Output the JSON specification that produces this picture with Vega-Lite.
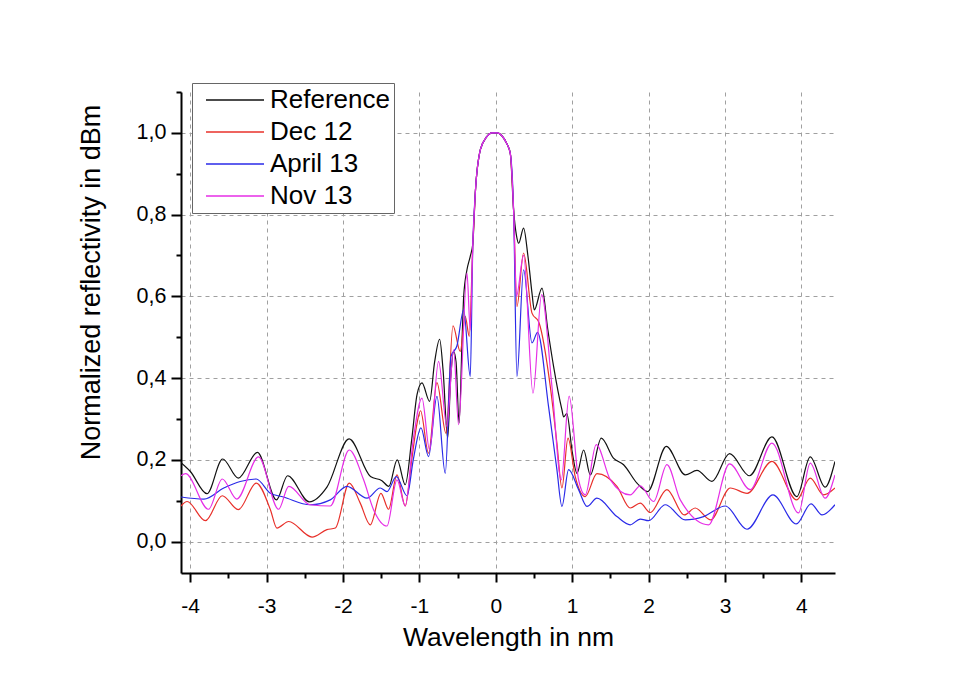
{
  "$schema": "https://vega.github.io/schema/vega-lite/v6.json",
  "autosize": "none",
  "width": 654,
  "height": 481,
  "padding": {"left": 181, "top": 92, "right": 120, "bottom": 105},
  "background": "white",
  "config": {"font": "Liberation Sans", "view": {"stroke": null}},
  "data": {"values": [
    {"s":"Reference","x":-4.12,"y":0.193},{"s":"Reference","x":-4.0,"y":0.172},{"s":"Reference","x":-3.78,"y":0.117},{"s":"Reference","x":-3.575,"y":0.202},{"s":"Reference","x":-3.37,"y":0.155},{"s":"Reference","x":-3.12,"y":0.218},{"s":"Reference","x":-2.87,"y":0.102},{"s":"Reference","x":-2.725,"y":0.161},{"s":"Reference","x":-2.44,"y":0.097},{"s":"Reference","x":-2.21,"y":0.133},{"s":"Reference","x":-1.92,"y":0.251},{"s":"Reference","x":-1.64,"y":0.159},{"s":"Reference","x":-1.49,"y":0.149},{"s":"Reference","x":-1.4,"y":0.135},{"s":"Reference","x":-1.29,"y":0.2},{"s":"Reference","x":-1.185,"y":0.139},{"s":"Reference","x":-1.1,"y":0.25},{"s":"Reference","x":-1.03,"y":0.36},{"s":"Reference","x":-0.966,"y":0.388},{"s":"Reference","x":-0.866,"y":0.343},{"s":"Reference","x":-0.8,"y":0.44},{"s":"Reference","x":-0.735,"y":0.495},{"s":"Reference","x":-0.69,"y":0.42},{"s":"Reference","x":-0.63,"y":0.253},{"s":"Reference","x":-0.59,"y":0.4},{"s":"Reference","x":-0.552,"y":0.465},{"s":"Reference","x":-0.52,"y":0.44},{"s":"Reference","x":-0.48,"y":0.29},{"s":"Reference","x":-0.44,"y":0.5},{"s":"Reference","x":-0.42,"y":0.6},{"s":"Reference","x":-0.377,"y":0.665},{"s":"Reference","x":-0.334,"y":0.698},{"s":"Reference","x":-0.3,"y":0.73},{"s":"Reference","x":-0.268,"y":0.853},{"s":"Reference","x":-0.2,"y":0.96},{"s":"Reference","x":-0.12,"y":0.99},{"s":"Reference","x":-0.05,"y":1.0},{"s":"Reference","x":0.02,"y":1.0},{"s":"Reference","x":0.08,"y":0.993},{"s":"Reference","x":0.14,"y":0.975},{"s":"Reference","x":0.19,"y":0.95},{"s":"Reference","x":0.233,"y":0.812},{"s":"Reference","x":0.27,"y":0.75},{"s":"Reference","x":0.3,"y":0.73},{"s":"Reference","x":0.364,"y":0.767},{"s":"Reference","x":0.42,"y":0.7},{"s":"Reference","x":0.474,"y":0.608},{"s":"Reference","x":0.504,"y":0.567},{"s":"Reference","x":0.605,"y":0.62},{"s":"Reference","x":0.68,"y":0.52},{"s":"Reference","x":0.757,"y":0.428},{"s":"Reference","x":0.866,"y":0.322},{"s":"Reference","x":0.888,"y":0.305},{"s":"Reference","x":0.93,"y":0.313},{"s":"Reference","x":1.0,"y":0.22},{"s":"Reference","x":1.063,"y":0.167},{"s":"Reference","x":1.15,"y":0.224},{"s":"Reference","x":1.237,"y":0.163},{"s":"Reference","x":1.381,"y":0.253},{"s":"Reference","x":1.54,"y":0.204},{"s":"Reference","x":1.673,"y":0.188},{"s":"Reference","x":1.848,"y":0.143},{"s":"Reference","x":1.987,"y":0.122},{"s":"Reference","x":2.232,"y":0.233},{"s":"Reference","x":2.48,"y":0.163},{"s":"Reference","x":2.633,"y":0.174},{"s":"Reference","x":2.83,"y":0.147},{"s":"Reference","x":3.06,"y":0.215},{"s":"Reference","x":3.32,"y":0.161},{"s":"Reference","x":3.615,"y":0.256},{"s":"Reference","x":3.94,"y":0.11},{"s":"Reference","x":4.116,"y":0.207},{"s":"Reference","x":4.31,"y":0.133},{"s":"Reference","x":4.44,"y":0.196},

    {"s":"Dec 12","x":-4.12,"y":0.087},{"s":"Dec 12","x":-4.04,"y":0.098},{"s":"Dec 12","x":-3.8,"y":0.051},{"s":"Dec 12","x":-3.58,"y":0.112},{"s":"Dec 12","x":-3.37,"y":0.078},{"s":"Dec 12","x":-3.135,"y":0.143},{"s":"Dec 12","x":-2.95,"y":0.078},{"s":"Dec 12","x":-2.865,"y":0.033},{"s":"Dec 12","x":-2.71,"y":0.049},{"s":"Dec 12","x":-2.405,"y":0.011},{"s":"Dec 12","x":-2.21,"y":0.029},{"s":"Dec 12","x":-2.1,"y":0.033},{"s":"Dec 12","x":-1.918,"y":0.143},{"s":"Dec 12","x":-1.774,"y":0.094},{"s":"Dec 12","x":-1.643,"y":0.041},{"s":"Dec 12","x":-1.503,"y":0.118},{"s":"Dec 12","x":-1.403,"y":0.079},{"s":"Dec 12","x":-1.293,"y":0.163},{"s":"Dec 12","x":-1.185,"y":0.087},{"s":"Dec 12","x":-1.1,"y":0.2},{"s":"Dec 12","x":-1.03,"y":0.29},{"s":"Dec 12","x":-0.985,"y":0.32},{"s":"Dec 12","x":-0.88,"y":0.216},{"s":"Dec 12","x":-0.77,"y":0.389},{"s":"Dec 12","x":-0.652,"y":0.265},{"s":"Dec 12","x":-0.56,"y":0.528},{"s":"Dec 12","x":-0.465,"y":0.465},{"s":"Dec 12","x":-0.4,"y":0.551},{"s":"Dec 12","x":-0.347,"y":0.502},{"s":"Dec 12","x":-0.3,"y":0.73},{"s":"Dec 12","x":-0.268,"y":0.853},{"s":"Dec 12","x":-0.2,"y":0.96},{"s":"Dec 12","x":-0.12,"y":0.99},{"s":"Dec 12","x":-0.05,"y":1.0},{"s":"Dec 12","x":0.02,"y":1.0},{"s":"Dec 12","x":0.08,"y":0.993},{"s":"Dec 12","x":0.14,"y":0.975},{"s":"Dec 12","x":0.19,"y":0.95},{"s":"Dec 12","x":0.233,"y":0.812},{"s":"Dec 12","x":0.277,"y":0.575},{"s":"Dec 12","x":0.364,"y":0.706},{"s":"Dec 12","x":0.474,"y":0.559},{"s":"Dec 12","x":0.565,"y":0.536},{"s":"Dec 12","x":0.713,"y":0.38},{"s":"Dec 12","x":0.8,"y":0.241},{"s":"Dec 12","x":0.866,"y":0.131},{"s":"Dec 12","x":0.945,"y":0.253},{"s":"Dec 12","x":1.04,"y":0.159},{"s":"Dec 12","x":1.171,"y":0.11},{"s":"Dec 12","x":1.324,"y":0.166},{"s":"Dec 12","x":1.586,"y":0.135},{"s":"Dec 12","x":1.76,"y":0.082},{"s":"Dec 12","x":1.891,"y":0.094},{"s":"Dec 12","x":2.022,"y":0.071},{"s":"Dec 12","x":2.24,"y":0.127},{"s":"Dec 12","x":2.467,"y":0.065},{"s":"Dec 12","x":2.61,"y":0.082},{"s":"Dec 12","x":2.81,"y":0.053},{"s":"Dec 12","x":3.07,"y":0.131},{"s":"Dec 12","x":3.29,"y":0.118},{"s":"Dec 12","x":3.615,"y":0.196},{"s":"Dec 12","x":3.94,"y":0.102},{"s":"Dec 12","x":4.116,"y":0.155},{"s":"Dec 12","x":4.29,"y":0.114},{"s":"Dec 12","x":4.44,"y":0.131},

    {"s":"April 13","x":-4.12,"y":0.109},{"s":"April 13","x":-3.82,"y":0.104},{"s":"April 13","x":-3.56,"y":0.131},{"s":"April 13","x":-3.345,"y":0.147},{"s":"April 13","x":-3.135,"y":0.153},{"s":"April 13","x":-2.95,"y":0.118},{"s":"April 13","x":-2.78,"y":0.109},{"s":"April 13","x":-2.43,"y":0.09},{"s":"April 13","x":-2.166,"y":0.102},{"s":"April 13","x":-1.948,"y":0.135},{"s":"April 13","x":-1.686,"y":0.106},{"s":"April 13","x":-1.512,"y":0.131},{"s":"April 13","x":-1.424,"y":0.122},{"s":"April 13","x":-1.302,"y":0.159},{"s":"April 13","x":-1.162,"y":0.112},{"s":"April 13","x":-1.08,"y":0.2},{"s":"April 13","x":-0.979,"y":0.278},{"s":"April 13","x":-0.88,"y":0.208},{"s":"April 13","x":-0.77,"y":0.355},{"s":"April 13","x":-0.661,"y":0.167},{"s":"April 13","x":-0.586,"y":0.453},{"s":"April 13","x":-0.508,"y":0.479},{"s":"April 13","x":-0.42,"y":0.567},{"s":"April 13","x":-0.334,"y":0.404},{"s":"April 13","x":-0.3,"y":0.73},{"s":"April 13","x":-0.268,"y":0.853},{"s":"April 13","x":-0.2,"y":0.96},{"s":"April 13","x":-0.12,"y":0.99},{"s":"April 13","x":-0.05,"y":1.0},{"s":"April 13","x":0.02,"y":1.0},{"s":"April 13","x":0.08,"y":0.993},{"s":"April 13","x":0.14,"y":0.975},{"s":"April 13","x":0.19,"y":0.95},{"s":"April 13","x":0.233,"y":0.812},{"s":"April 13","x":0.277,"y":0.404},{"s":"April 13","x":0.364,"y":0.665},{"s":"April 13","x":0.474,"y":0.486},{"s":"April 13","x":0.547,"y":0.512},{"s":"April 13","x":0.691,"y":0.33},{"s":"April 13","x":0.8,"y":0.176},{"s":"April 13","x":0.866,"y":0.086},{"s":"April 13","x":0.953,"y":0.176},{"s":"April 13","x":1.084,"y":0.127},{"s":"April 13","x":1.194,"y":0.086},{"s":"April 13","x":1.324,"y":0.106},{"s":"April 13","x":1.586,"y":0.061},{"s":"April 13","x":1.76,"y":0.041},{"s":"April 13","x":1.891,"y":0.055},{"s":"April 13","x":2.0,"y":0.051},{"s":"April 13","x":2.219,"y":0.09},{"s":"April 13","x":2.48,"y":0.053},{"s":"April 13","x":2.72,"y":0.061},{"s":"April 13","x":3.004,"y":0.087},{"s":"April 13","x":3.288,"y":0.03},{"s":"April 13","x":3.628,"y":0.114},{"s":"April 13","x":3.933,"y":0.043},{"s":"April 13","x":4.126,"y":0.092},{"s":"April 13","x":4.27,"y":0.065},{"s":"April 13","x":4.44,"y":0.09},

    {"s":"Nov 13","x":-4.12,"y":0.161},{"s":"Nov 13","x":-4.06,"y":0.166},{"s":"Nov 13","x":-3.76,"y":0.079},{"s":"Nov 13","x":-3.58,"y":0.153},{"s":"Nov 13","x":-3.39,"y":0.104},{"s":"Nov 13","x":-3.105,"y":0.207},{"s":"Nov 13","x":-2.843,"y":0.079},{"s":"Nov 13","x":-2.71,"y":0.135},{"s":"Nov 13","x":-2.43,"y":0.09},{"s":"Nov 13","x":-2.166,"y":0.087},{"s":"Nov 13","x":-1.918,"y":0.224},{"s":"Nov 13","x":-1.73,"y":0.151},{"s":"Nov 13","x":-1.6,"y":0.078},{"s":"Nov 13","x":-1.424,"y":0.038},{"s":"Nov 13","x":-1.293,"y":0.151},{"s":"Nov 13","x":-1.185,"y":0.087},{"s":"Nov 13","x":-1.08,"y":0.25},{"s":"Nov 13","x":-0.966,"y":0.351},{"s":"Nov 13","x":-0.866,"y":0.224},{"s":"Nov 13","x":-0.749,"y":0.441},{"s":"Nov 13","x":-0.64,"y":0.282},{"s":"Nov 13","x":-0.552,"y":0.469},{"s":"Nov 13","x":-0.487,"y":0.286},{"s":"Nov 13","x":-0.377,"y":0.657},{"s":"Nov 13","x":-0.334,"y":0.518},{"s":"Nov 13","x":-0.3,"y":0.73},{"s":"Nov 13","x":-0.268,"y":0.853},{"s":"Nov 13","x":-0.2,"y":0.96},{"s":"Nov 13","x":-0.12,"y":0.99},{"s":"Nov 13","x":-0.05,"y":1.0},{"s":"Nov 13","x":0.02,"y":1.0},{"s":"Nov 13","x":0.08,"y":0.993},{"s":"Nov 13","x":0.14,"y":0.975},{"s":"Nov 13","x":0.19,"y":0.95},{"s":"Nov 13","x":0.233,"y":0.812},{"s":"Nov 13","x":0.27,"y":0.6},{"s":"Nov 13","x":0.364,"y":0.7},{"s":"Nov 13","x":0.487,"y":0.363},{"s":"Nov 13","x":0.6,"y":0.604},{"s":"Nov 13","x":0.735,"y":0.38},{"s":"Nov 13","x":0.857,"y":0.151},{"s":"Nov 13","x":0.96,"y":0.356},{"s":"Nov 13","x":1.084,"y":0.151},{"s":"Nov 13","x":1.171,"y":0.114},{"s":"Nov 13","x":1.315,"y":0.237},{"s":"Nov 13","x":1.5,"y":0.151},{"s":"Nov 13","x":1.76,"y":0.114},{"s":"Nov 13","x":1.891,"y":0.136},{"s":"Nov 13","x":2.066,"y":0.098},{"s":"Nov 13","x":2.24,"y":0.188},{"s":"Nov 13","x":2.415,"y":0.102},{"s":"Nov 13","x":2.786,"y":0.041},{"s":"Nov 13","x":3.06,"y":0.19},{"s":"Nov 13","x":3.33,"y":0.127},{"s":"Nov 13","x":3.615,"y":0.241},{"s":"Nov 13","x":3.963,"y":0.07},{"s":"Nov 13","x":4.116,"y":0.192},{"s":"Nov 13","x":4.31,"y":0.106},{"s":"Nov 13","x":4.44,"y":0.163}
  ]},
  "layer": [
    {
      "mark": {"type": "line", "interpolate": "monotone", "strokeWidth": 1.2, "clip": true},
      "encoding": {
        "x": {"field": "x", "type": "quantitative",
          "scale": {"domain": [-4.12, 4.44], "nice": false, "zero": false},
          "axis": {"orient": "bottom", "values": [-4,-3,-2,-1,0,1,2,3,4], "grid": true, "gridColor": "#a0a0a0", "gridDash": [4,4], "gridWidth": 1,
            "domainColor": "black", "domainWidth": 2, "tickColor": "black", "tickWidth": 2, "tickSize": 9,
            "labelFontSize": 21, "labelColor": "black", "labelPadding": 24, "labelBaseline": "middle", "labelExpr": "'' + datum.value",
            "title": "Wavelength in nm", "titleFontSize": 26.5, "titleFontWeight": "normal", "titleColor": "black", "titleBaseline": "middle", "titleY": 64}},
        "y": {"field": "y", "type": "quantitative",
          "scale": {"domain": [-0.077, 1.1], "nice": false, "zero": false},
          "axis": {"orient": "left", "values": [0,0.2,0.4,0.6,0.8,1.0], "grid": true, "gridColor": "#a0a0a0", "gridDash": [4,4], "gridWidth": 1,
            "domainColor": "black", "domainWidth": 2, "tickColor": "black", "tickWidth": 2, "tickSize": 10,
            "labelFontSize": 21.5, "labelColor": "black", "labelPadding": 5, "labelExpr": "replace(format(datum.value, '.1f'), '.', ',')",
            "title": "Normalized reflectivity in dBm", "titleFontSize": 27, "titleFontWeight": "normal", "titleColor": "black", "titleBaseline": "middle", "titleX": -90, "titleY": 190}},
        "color": {"field": "s", "type": "nominal",
          "scale": {"domain": ["Reference", "Dec 12", "April 13", "Nov 13"], "range": ["#111111", "#e8302a", "#2a2ae8", "#e62ee6"]},
          "legend": {"title": null, "orient": "none", "legendX": 11, "legendY": -9, "direction": "vertical",
            "strokeColor": "#666666", "fillColor": "white", "padding": 4, "symbolType": "stroke", "symbolSize": 3364, "symbolStrokeWidth": 1.5,
            "symbolOffset": 9, "clipHeight": 26,
            "labelFontSize": 26, "labelColor": "black", "labelOffset": 5, "rowPadding": 6, "labelLimit": 300}}
      }
    },
    {
      "mark": {"type": "line", "opacity": 0},
      "encoding": {
        "x": {"field": "x", "type": "quantitative",
          "axis": {"orient": "bottom", "values": [-3.5,-2.5,-1.5,-0.5,0.5,1.5,2.5,3.5], "grid": false, "labels": false, "domain": false, "title": null,
            "tickColor": "black", "tickWidth": 2, "tickSize": 5}},
        "y": {"field": "y", "type": "quantitative",
          "axis": {"orient": "left", "values": [0.1,0.3,0.5,0.7,0.9,1.1], "grid": false, "labels": false, "domain": false, "title": null,
            "tickColor": "black", "tickWidth": 2, "tickSize": 5}}
      }
    }
  ],
  "resolve": {"axis": {"x": "independent", "y": "independent"}}
}
